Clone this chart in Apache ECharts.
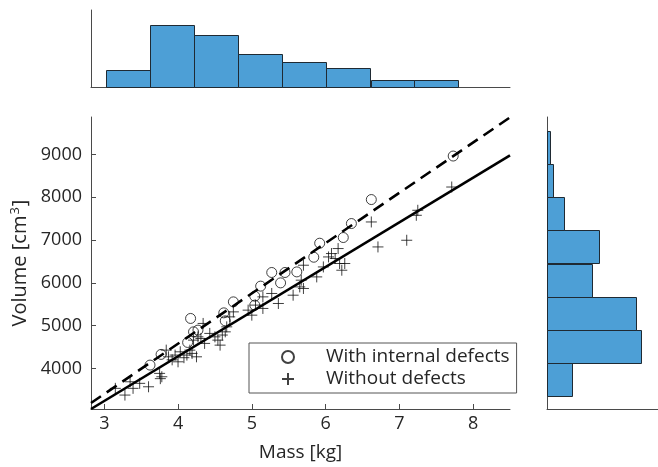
<!DOCTYPE html>
<html>
<head>
<meta charset="utf-8">
<script src="https://cdn.jsdelivr.net/npm/echarts@6/dist/echarts.min.js"></script>
<style>html,body{margin:0;padding:0;background:#fff;}#c{width:658px;height:467px;}</style>
</head>
<body>
<div id="c"></div>
<script>
// ---- data ----
const withDefectsMass = [3.62,3.77,4.13,4.17,4.21,4.27,4.62,4.64,4.75,5.04,5.04,5.12,5.27,5.39,5.45,5.61,5.84,5.92,6.24,6.35,6.62,7.73];
const withDefectsVol  = [4077,4327,4607,5168,4855,4895,5299,5112,5556,5689,5479,5924,6243,6000,6243,6257,6600,6928,7061,7388,7949,8967];
const withoutMass = [3.15,3.28,3.35,3.39,3.48,3.60,3.75,3.78,3.76,3.84,3.87,3.92,3.96,4.00,4.03,4.08,4.12,4.16,4.19,4.21,4.25,4.27,4.31,4.34,4.36,4.43,4.50,4.54,4.57,4.60,4.64,4.66,4.70,4.75,4.95,5.00,5.05,5.15,5.15,5.27,5.36,5.56,5.65,5.67,5.70,5.70,5.88,5.97,6.04,6.08,6.13,6.17,6.19,6.22,6.26,6.62,6.71,7.10,7.23,7.25,7.71];
const withoutVol  = [3533,3376,3687,3533,3650,3570,3883,3804,3760,4427,4271,4200,4311,4154,4388,4250,4311,4427,4350,4661,4271,4738,4700,5051,4584,4818,4738,4661,4544,4780,4855,4972,5205,5322,5362,5245,5480,5402,5673,5752,5518,5712,5906,6063,6413,5869,6140,6373,6607,6686,6570,6803,6453,6296,6453,7425,6841,6997,7581,7698,8242];
const fitMass = [2.82, 8.5];
const fitWithVol = [3190, 9870];
const fitWithoutVol = [3050, 8985];
const massBinEdges = [3.02,3.62,4.22,4.81,5.41,6.01,6.61,7.20,7.80];
const massHist = [7.6,28.1,23.6,14.8,11.3,8.5,3.1,3.1];
const volBinEdges = [3353,4117,4895,5673,6453,7231,8009,8790,9551];
const volHist = [7.7,28.6,26.9,13.6,15.6,5.0,1.8,0.8];
const xTicks = [3,4,5,6,7,8];
const yTicks = [4000,5000,6000,7000,8000,9000];
const seriesNames = ['With internal defects','Without defects'];

// ---- build ----
const FONT = 'Open Sans';
const AX = '#4a4a4a';
const TXT = '#262626';
const BAR = '#4d9fd6';
const zip = (a,b) => a.map((v,i)=>[v,b[i]]);
const topHistData = massHist.map((h,i)=>[massBinEdges[i], massBinEdges[i+1], h]);
const rightHistData = volHist.map((h,i)=>[volBinEdges[i], volBinEdges[i+1], h]);

const chart = echarts.init(document.getElementById('c'));
const plainAxis = {
  axisLine:{show:true, lineStyle:{color:AX, width:1}},
  axisTick:{show:false}, axisLabel:{show:false}, splitLine:{show:false}
};
chart.setOption({
  animation:false,
  backgroundColor:'#fff',
  textStyle:{fontFamily:FONT},
  grid:[
    {left:91, right:148, top:117, bottom:58},
    {left:91, right:148, top:10, bottom:380},
    {left:547, right:0, top:117, bottom:58}
  ],
  xAxis:[
    {gridIndex:0, type:'value', min:2.82, max:8.5,
     name:'Mass [kg]', nameLocation:'middle', nameGap:34,
     nameTextStyle:{fontFamily:FONT, fontSize:19, color:TXT},
     axisLine:{show:true, onZero:false, lineStyle:{color:AX, width:1}},
     axisTick:{show:true, inside:true, length:5, customValues:xTicks, lineStyle:{color:AX}},
     axisLabel:{show:true, customValues:xTicks, margin:6, fontFamily:FONT, fontSize:18, color:TXT,
       formatter:v=>String(v)},
     splitLine:{show:false}},
    Object.assign({gridIndex:1, type:'value', min:2.82, max:8.5}, plainAxis),
    Object.assign({gridIndex:2, type:'value', min:0, max:33.6}, plainAxis)
  ],
  yAxis:[
    {gridIndex:0, type:'value', min:3050, max:9880,
     name:'Volume [cm{sup|3}]', nameLocation:'middle', nameGap:52, nameRotate:90,
     nameTextStyle:{fontFamily:FONT, fontSize:20, color:TXT,
       rich:{sup:{fontFamily:FONT, fontSize:13, color:TXT, verticalAlign:'top', padding:[0,1,10,1]}}},
     axisLine:{show:true, onZero:false, lineStyle:{color:AX, width:1}},
     axisTick:{show:true, inside:true, length:5, customValues:yTicks, lineStyle:{color:AX}},
     axisLabel:{show:true, customValues:yTicks, margin:9, fontFamily:FONT, fontSize:18, color:TXT,
       formatter:v=>String(v)},
     splitLine:{show:false}},
    Object.assign({gridIndex:1, type:'value', min:0, max:35}, plainAxis),
    Object.assign({gridIndex:2, type:'value', min:3050, max:9880}, plainAxis)
  ],
  legend:{
    data:seriesNames,
    orient:'vertical', left:249, top:343,
    padding:[3,7,3,32], itemGap:0,
    itemWidth:66, itemHeight:12,
    borderColor:'#555', borderWidth:1, backgroundColor:'#fff',
    textStyle:{fontFamily:FONT, fontSize:19, color:TXT, lineHeight:22},
    selectedMode:false
  },
  series:[
    {name:seriesNames[0], type:'scatter', xAxisIndex:0, yAxisIndex:0,
     data:zip(withDefectsMass, withDefectsVol),
     symbol:'circle', symbolSize:10, symbolKeepAspect:true,
     itemStyle:{color:'rgba(255,255,255,0)', borderColor:'#111', borderWidth:1}},
    {name:seriesNames[1], type:'scatter', xAxisIndex:0, yAxisIndex:0,
     data:zip(withoutMass, withoutVol),
     symbol:'path://M5,0 L5,10 M0,5 L10,5', symbolSize:11, symbolKeepAspect:true,
     itemStyle:{color:'rgba(255,255,255,0)', borderColor:'#111', borderWidth:1}},
    {name:'fit with', type:'line', xAxisIndex:0, yAxisIndex:0,
     data:zip(fitMass, fitWithVol), showSymbol:false, symbol:'none',
     lineStyle:{color:'#000', width:2.6, type:[12,7], cap:'butt'}},
    {name:'fit without', type:'line', xAxisIndex:0, yAxisIndex:0,
     data:zip(fitMass, fitWithoutVol), showSymbol:false, symbol:'none',
     lineStyle:{color:'#000', width:2.6}},
    {name:'mass hist', type:'custom', xAxisIndex:1, yAxisIndex:1,
     data:topHistData, encode:{x:[0,1], y:2},
     renderItem:function(params, api){
       const p0 = api.coord([api.value(0), 0]);
       const p1 = api.coord([api.value(1), api.value(2)]);
       return {type:'rect', shape:{x:Math.round(p0[0])+0.5, y:Math.round(p1[1])+0.5, width:Math.round(p1[0]-p0[0]), height:Math.round(p0[1]-p1[1])},
         style:{fill:BAR, stroke:'#1f2a33', lineWidth:1}};
     }},
    {name:'vol hist', type:'custom', xAxisIndex:2, yAxisIndex:2,
     data:rightHistData, encode:{y:[0,1], x:2},
     renderItem:function(params, api){
       const p0 = api.coord([0, api.value(0)]);
       const p1 = api.coord([api.value(2), api.value(1)]);
       return {type:'rect', shape:{x:Math.round(p0[0])+0.5, y:Math.round(p1[1])+0.5, width:Math.round(p1[0]-p0[0]), height:Math.round(p0[1]-p1[1])},
         style:{fill:BAR, stroke:'#1f2a33', lineWidth:1}};
     }}
  ]
});
</script>
</body>
</html>
